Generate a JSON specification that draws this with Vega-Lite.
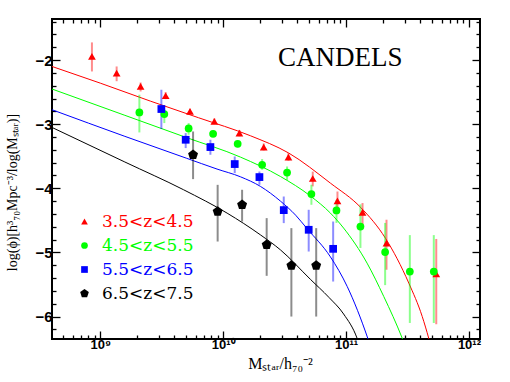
{
  "$schema": "https://vega.github.io/schema/vega-lite/v6.json",
  "width": 428,
  "height": 320,
  "autosize": "none",
  "padding": {"left": 52, "top": 19, "right": 30, "bottom": 43},
  "background": "white",
  "config": {
    "view": {"stroke": "black", "strokeWidth": 2},
    "axis": {"grid": false, "domain": false, "tickColor": "black", "tickWidth": 1.3, "labelColor": "black", "titleColor": "black"},
    "legend": {"labelFont": "DejaVu Serif", "labelFontSize": 17, "symbolOpacity": 1}
  },
  "title": {"text": "CANDELS", "anchor": "start", "frame": "group", "orient": "top", "offset": 0, "dx": 226, "dy": 78, "font": "Liberation Serif", "fontSize": 27, "fontWeight": "normal", "color": "black", "baseline": "alphabetic"},
  "datasets": {
    "pts": [
      {"z": "3.5<z<4.5", "logM": 8.932, "logphi": -1.944, "lo": -2.178, "hi": -1.725},
      {"z": "3.5<z<4.5", "logM": 9.133, "logphi": -2.203, "lo": -2.33, "hi": -2.10},
      {"z": "3.5<z<4.5", "logM": 9.328, "logphi": -2.412, "lo": -2.49, "hi": -2.35},
      {"z": "3.5<z<4.5", "logM": 9.532, "logphi": -2.557, "lo": -2.61, "hi": -2.50},
      {"z": "3.5<z<4.5", "logM": 9.730, "logphi": -2.802, "lo": -2.85, "hi": -2.76},
      {"z": "3.5<z<4.5", "logM": 9.928, "logphi": -2.958, "lo": -3.00, "hi": -2.91},
      {"z": "3.5<z<4.5", "logM": 10.132, "logphi": -3.139, "lo": -3.19, "hi": -3.09},
      {"z": "3.5<z<4.5", "logM": 10.330, "logphi": -3.357, "lo": -3.41, "hi": -3.30},
      {"z": "3.5<z<4.5", "logM": 10.531, "logphi": -3.513, "lo": -3.57, "hi": -3.45},
      {"z": "3.5<z<4.5", "logM": 10.729, "logphi": -3.847, "lo": -3.97, "hi": -3.74},
      {"z": "3.5<z<4.5", "logM": 10.930, "logphi": -4.195, "lo": -4.39, "hi": -4.05},
      {"z": "3.5<z<4.5", "logM": 11.134, "logphi": -4.374, "lo": -4.60, "hi": -4.23},
      {"z": "3.5<z<4.5", "logM": 11.329, "logphi": -4.855, "lo": -5.27, "hi": -4.49},
      {"z": "3.5<z<4.5", "logM": 11.734, "logphi": -5.334, "lo": -6.12, "hi": -4.79},
      {"z": "4.5<z<5.5", "logM": 9.318, "logphi": -2.817, "lo": -3.129, "hi": -2.541},
      {"z": "4.5<z<5.5", "logM": 9.521, "logphi": -2.842, "lo": -2.983, "hi": -2.775},
      {"z": "4.5<z<5.5", "logM": 9.719, "logphi": -3.067, "lo": -3.165, "hi": -2.983},
      {"z": "4.5<z<5.5", "logM": 9.918, "logphi": -3.150, "lo": -3.20, "hi": -3.10},
      {"z": "4.5<z<5.5", "logM": 10.118, "logphi": -3.306, "lo": -3.36, "hi": -3.26},
      {"z": "4.5<z<5.5", "logM": 10.317, "logphi": -3.633, "lo": -3.711, "hi": -3.544},
      {"z": "4.5<z<5.5", "logM": 10.520, "logphi": -3.754, "lo": -3.87, "hi": -3.66},
      {"z": "4.5<z<5.5", "logM": 10.718, "logphi": -4.090, "lo": -4.257, "hi": -3.945},
      {"z": "4.5<z<5.5", "logM": 10.922, "logphi": -4.346, "lo": -4.54, "hi": -4.18},
      {"z": "4.5<z<5.5", "logM": 11.117, "logphi": -4.596, "lo": -4.93, "hi": -4.25},
      {"z": "4.5<z<5.5", "logM": 11.318, "logphi": -4.995, "lo": -5.51, "hi": -4.54},
      {"z": "4.5<z<5.5", "logM": 11.519, "logphi": -5.298, "lo": -6.10, "hi": -4.73},
      {"z": "4.5<z<5.5", "logM": 11.714, "logphi": -5.298, "lo": -6.10, "hi": -4.73},
      {"z": "5.5<z<6.5", "logM": 9.497, "logphi": -2.764, "lo": -3.076, "hi": -2.463},
      {"z": "5.5<z<6.5", "logM": 9.695, "logphi": -3.243, "lo": -3.373, "hi": -3.139},
      {"z": "5.5<z<6.5", "logM": 9.896, "logphi": -3.357, "lo": -3.477, "hi": -3.243},
      {"z": "5.5<z<6.5", "logM": 10.094, "logphi": -3.622, "lo": -3.763, "hi": -3.504},
      {"z": "5.5<z<6.5", "logM": 10.295, "logphi": -3.825, "lo": -3.945, "hi": -3.738},
      {"z": "5.5<z<6.5", "logM": 10.493, "logphi": -4.340, "lo": -4.543, "hi": -4.128},
      {"z": "5.5<z<6.5", "logM": 10.696, "logphi": -4.647, "lo": -4.986, "hi": -4.335},
      {"z": "5.5<z<6.5", "logM": 10.895, "logphi": -4.944, "lo": -5.454, "hi": -4.518},
      {"z": "6.5<z<7.5", "logM": 9.755, "logphi": -3.477, "lo": -3.857, "hi": -3.114},
      {"z": "6.5<z<7.5", "logM": 9.955, "logphi": -4.362, "lo": -4.830, "hi": -3.946},
      {"z": "6.5<z<7.5", "logM": 10.154, "logphi": -4.257, "lo": -4.518, "hi": -4.023},
      {"z": "6.5<z<7.5", "logM": 10.354, "logphi": -4.881, "lo": -5.365, "hi": -4.465},
      {"z": "6.5<z<7.5", "logM": 10.555, "logphi": -5.204, "lo": -6.0, "hi": -4.621},
      {"z": "6.5<z<7.5", "logM": 10.757, "logphi": -5.204, "lo": -6.0, "hi": -4.621}
    ],
    "curves": [
      {"z": "3.5<z<4.5", "logM": 8.607, "logphi": -2.10},
      {"z": "3.5<z<4.5", "logM": 9.0, "logphi": -2.36},
      {"z": "3.5<z<4.5", "logM": 9.407, "logphi": -2.64},
      {"z": "3.5<z<4.5", "logM": 9.8, "logphi": -2.90},
      {"z": "3.5<z<4.5", "logM": 10.221, "logphi": -3.18},
      {"z": "3.5<z<4.5", "logM": 10.533, "logphi": -3.45},
      {"z": "3.5<z<4.5", "logM": 10.873, "logphi": -3.92},
      {"z": "3.5<z<4.5", "logM": 11.12, "logphi": -4.30},
      {"z": "3.5<z<4.5", "logM": 11.321, "logphi": -4.78},
      {"z": "3.5<z<4.5", "logM": 11.511, "logphi": -5.48},
      {"z": "3.5<z<4.5", "logM": 11.62, "logphi": -6.0},
      {"z": "3.5<z<4.5", "logM": 11.673, "logphi": -6.34},
      {"z": "3.5<z<4.5", "logM": 11.70, "logphi": -6.53},
      {"z": "4.5<z<5.5", "logM": 8.607, "logphi": -2.452},
      {"z": "4.5<z<5.5", "logM": 9.2, "logphi": -2.862},
      {"z": "4.5<z<5.5", "logM": 9.7, "logphi": -3.208},
      {"z": "4.5<z<5.5", "logM": 10.14, "logphi": -3.513},
      {"z": "4.5<z<5.5", "logM": 10.466, "logphi": -3.816},
      {"z": "4.5<z<5.5", "logM": 10.71, "logphi": -4.12},
      {"z": "4.5<z<5.5", "logM": 10.873, "logphi": -4.387},
      {"z": "4.5<z<5.5", "logM": 10.98, "logphi": -4.62},
      {"z": "4.5<z<5.5", "logM": 11.171, "logphi": -5.167},
      {"z": "4.5<z<5.5", "logM": 11.307, "logphi": -5.688},
      {"z": "4.5<z<5.5", "logM": 11.457, "logphi": -6.337},
      {"z": "4.5<z<5.5", "logM": 11.48, "logphi": -6.45},
      {"z": "5.5<z<6.5", "logM": 8.607, "logphi": -2.775},
      {"z": "5.5<z<6.5", "logM": 9.2, "logphi": -3.19},
      {"z": "5.5<z<6.5", "logM": 9.7, "logphi": -3.53},
      {"z": "5.5<z<6.5", "logM": 9.95, "logphi": -3.70},
      {"z": "5.5<z<6.5", "logM": 10.14, "logphi": -3.82},
      {"z": "5.5<z<6.5", "logM": 10.303, "logphi": -3.97},
      {"z": "5.5<z<6.5", "logM": 10.466, "logphi": -4.20},
      {"z": "5.5<z<6.5", "logM": 10.59, "logphi": -4.42},
      {"z": "5.5<z<6.5", "logM": 10.683, "logphi": -4.63},
      {"z": "5.5<z<6.5", "logM": 10.873, "logphi": -5.07},
      {"z": "5.5<z<6.5", "logM": 11.009, "logphi": -5.53},
      {"z": "5.5<z<6.5", "logM": 11.177, "logphi": -6.34},
      {"z": "5.5<z<6.5", "logM": 11.2, "logphi": -6.47},
      {"z": "6.5<z<7.5", "logM": 8.607, "logphi": -3.051},
      {"z": "6.5<z<7.5", "logM": 9.2, "logphi": -3.59},
      {"z": "6.5<z<7.5", "logM": 9.678, "logphi": -4.023},
      {"z": "6.5<z<7.5", "logM": 10.032, "logphi": -4.387},
      {"z": "6.5<z<7.5", "logM": 10.303, "logphi": -4.726},
      {"z": "6.5<z<7.5", "logM": 10.466, "logphi": -4.96},
      {"z": "6.5<z<7.5", "logM": 10.71, "logphi": -5.42},
      {"z": "6.5<z<7.5", "logM": 10.86, "logphi": -5.70},
      {"z": "6.5<z<7.5", "logM": 10.98, "logphi": -5.96},
      {"z": "6.5<z<7.5", "logM": 11.09, "logphi": -6.34},
      {"z": "6.5<z<7.5", "logM": 11.11, "logphi": -6.45}
    ]
  },
  "resolve": {"axis": {"x": "independent", "y": "independent"}},
  "layer": [
    {
      "data": {"name": "curves"},
      "mark": {"type": "line", "strokeWidth": 1, "clip": true, "interpolate": "monotone"},
      "encoding": {
        "x": {"field": "logM", "type": "quantitative", "scale": {"domain": [8.607, 12.09], "nice": false, "zero": false},
          "axis": {"orient": "top", "labels": false, "title": null,
            "values": [8.699, 8.778, 8.845, 8.903, 8.954, 9, 9.301, 9.477, 9.602, 9.699, 9.778, 9.845, 9.903, 9.954, 10, 10.301, 10.477, 10.602, 10.699, 10.778, 10.845, 10.903, 10.954, 11, 11.301, 11.477, 11.602, 11.699, 11.778, 11.845, 11.903, 11.954, 12],
            "tickSize": {"condition": {"test": "datum.value % 1 == 0", "value": -8}, "value": -4}}},
        "y": {"field": "logphi", "type": "quantitative", "scale": {"domain": [-6.35, -1.36], "nice": false, "zero": false},
          "axis": {"orient": "right", "labels": false, "title": null,
            "values": [-6.2, -6, -5.8, -5.6, -5.4, -5.2, -5, -4.8, -4.6, -4.4, -4.2, -4, -3.8, -3.6, -3.4, -3.2, -3, -2.8, -2.6, -2.4, -2.2, -2, -1.8, -1.6, -1.4],
            "tickSize": {"condition": {"test": "datum.value % 1 == 0", "value": -8}, "value": -4}}},
        "color": {"field": "z", "type": "nominal",
          "scale": {"domain": ["3.5<z<4.5", "4.5<z<5.5", "5.5<z<6.5", "6.5<z<7.5"], "range": ["#ff0000", "#00ff00", "#0000ff", "#000000"]},
          "legend": {"orient": "none", "legendX": 24, "legendY": 194, "title": null,
            "labelFont": "DejaVu Serif", "labelFontSize": 17, "symbolSize": 45, "rowPadding": 6, "labelOffset": 9,
            "symbolType": "circle", "symbolStrokeWidth": 0, "symbolOpacity": 1,
            "labelColor": {"expr": "scale('color', datum.value)"}}},
        "detail": {"field": "z"},
        "order": {"field": "logM"}
      }
    },
    {
      "data": {"name": "pts"},
      "mark": {"type": "rule", "strokeWidth": 2, "strokeOpacity": 0.45},
      "encoding": {
        "x": {"field": "logM", "type": "quantitative", "axis": null},
        "y": {"field": "lo", "type": "quantitative", "axis": null},
        "y2": {"field": "hi"},
        "color": {"field": "z", "type": "nominal"}
      }
    },
    {
      "data": {"name": "pts"},
      "mark": {"type": "point", "filled": true, "opacity": 1, "size": 60, "strokeWidth": 0},
      "encoding": {
        "x": {"field": "logM", "type": "quantitative",
          "axis": {"orient": "bottom", "title": "Mₛₜₐᵣ/h₇₀⁻²",
            "values": [8.699, 8.778, 8.845, 8.903, 8.954, 9, 9.301, 9.477, 9.602, 9.699, 9.778, 9.845, 9.903, 9.954, 10, 10.301, 10.477, 10.602, 10.699, 10.778, 10.845, 10.903, 10.954, 11, 11.301, 11.477, 11.602, 11.699, 11.778, 11.845, 11.903, 11.954, 12],
            "labelExpr": "datum.value == 9 ? '10⁹' : datum.value == 10 ? '10¹⁰' : datum.value == 11 ? '10¹¹' : datum.value == 12 ? '10¹²' : ''",
            "tickSize": {"condition": {"test": "datum.value % 1 == 0", "value": -8}, "value": -4},
            "labelFont": "Liberation Sans", "labelFontWeight": "bold", "labelFontSize": 13, "labelPadding": 7,
            "labelFlush": false, "labelOverlap": false,
            "titleFont": "Liberation Serif", "titleFontSize": 16, "titleFontWeight": "normal",
            "titleX": 228, "titleY": 29, "titleBaseline": "alphabetic", "titleAlign": "center"}},
        "y": {"field": "logphi", "type": "quantitative",
          "axis": {"orient": "left", "title": "log(ϕ)[h³₇₀Mpc⁻³/log(Mₛₜₐᵣ)]",
            "values": [-6.2, -6, -5.8, -5.6, -5.4, -5.2, -5, -4.8, -4.6, -4.4, -4.2, -4, -3.8, -3.6, -3.4, -3.2, -3, -2.8, -2.6, -2.4, -2.2, -2, -1.8, -1.6, -1.4],
            "labelExpr": "datum.value % 1 == 0 ? format(datum.value, 'd') : ''",
            "tickSize": {"condition": {"test": "datum.value % 1 == 0", "value": -8}, "value": -4},
            "labelFont": "Liberation Sans", "labelFontWeight": "bold", "labelFontSize": 15, "labelPadding": 8,
            "labelFlush": false, "labelOverlap": false,
            "titleFont": "Liberation Serif", "titleFontSize": 14, "titleFontWeight": "normal",
            "titleX": -40, "titleY": 173, "titleAlign": "center", "titleBaseline": "middle"}},
        "color": {"field": "z", "type": "nominal"},
        "shape": {"field": "z", "type": "nominal",
          "scale": {"domain": ["3.5<z<4.5", "4.5<z<5.5", "5.5<z<6.5", "6.5<z<7.5"], "range": ["triangle-up", "circle", "square", "M0,-1.35L1.28,-0.42L0.79,1.09L-0.79,1.09L-1.28,-0.42Z"]},
          "legend": null}
      }
    }
  ]
}
